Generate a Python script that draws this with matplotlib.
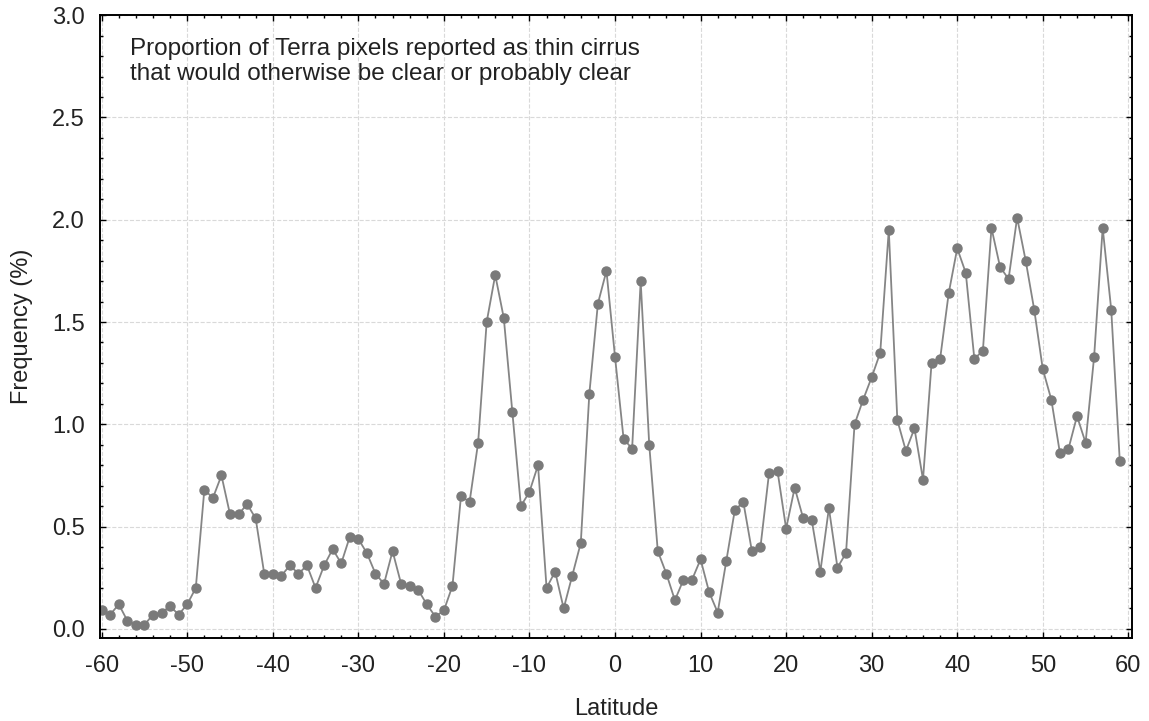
import matplotlib
matplotlib.use("Agg")
import matplotlib.pyplot as plt
from matplotlib.ticker import MultipleLocator

plt.rcParams['font.family'] = ['Liberation Sans', 'DejaVu Sans']

# latitud (grados) y frecuencia (%)
latitud = list(range(-60, 60))
frecuencia = [
    0.09, 0.07, 0.12, 0.04, 0.02, 0.02, 0.07, 0.08, 0.11, 0.07,
    0.12, 0.20, 0.68, 0.64, 0.75, 0.56, 0.56, 0.61, 0.54, 0.27,
    0.27, 0.26, 0.31, 0.27, 0.31, 0.20, 0.31, 0.39, 0.32, 0.45,
    0.44, 0.37, 0.27, 0.22, 0.38, 0.22, 0.21, 0.19, 0.12, 0.06,
    0.09, 0.21, 0.65, 0.62, 0.91, 1.50, 1.73, 1.52, 1.06, 0.60,
    0.67, 0.80, 0.20, 0.28, 0.10, 0.26, 0.42, 1.15, 1.59, 1.75,
    1.33, 0.93, 0.88, 1.70, 0.90, 0.38, 0.27, 0.14, 0.24, 0.24,
    0.34, 0.18, 0.08, 0.33, 0.58, 0.62, 0.38, 0.40, 0.76, 0.77,
    0.49, 0.69, 0.54, 0.53, 0.28, 0.59, 0.30, 0.37, 1.00, 1.12,
    1.23, 1.35, 1.95, 1.02, 0.87, 0.98, 0.73, 1.30, 1.32, 1.64,
    1.86, 1.74, 1.32, 1.36, 1.96, 1.77, 1.71, 2.01, 1.80, 1.56,
    1.27, 1.12, 0.86, 0.88, 1.04, 0.91, 1.33, 1.96, 1.56, 0.82,
]
xticks = list(range(-60, 61, 10))
yticks = [0.0, 0.5, 1.0, 1.5, 2.0, 2.5, 3.0]

fig = plt.figure(figsize=(11.49, 7.21), dpi=100)
ax = fig.add_axes([0.087, 0.115, 0.898, 0.864])

ax.plot(latitud, frecuencia, color='#858585', lw=1.3, marker='o',
        markersize=6.5, markerfacecolor='#7a7a7a', markeredgecolor='#7a7a7a')

ax.set_xlim(-60.2, 60.4)
ax.set_ylim(-0.045, 3.0)
ax.set_xticks(xticks)
ax.set_yticks(yticks)
ax.set_xticklabels([str(t) for t in xticks])
ax.set_yticklabels(['%.1f' % t for t in yticks])
ax.xaxis.set_minor_locator(MultipleLocator(2))
ax.yaxis.set_minor_locator(MultipleLocator(0.1))
ax.tick_params(which='both', direction='in', top=True, right=True, labelsize=17,
               labelcolor='#222222')
ax.tick_params(which='major', length=4, width=1)
ax.tick_params(which='minor', length=2.5, width=1)
ax.tick_params(axis='x', pad=12)
ax.tick_params(axis='y', pad=11)

ax.grid(True, which='major', color='#d9d9d9', linestyle='--', linewidth=0.8)
for s in ax.spines.values():
    s.set_linewidth(1.4)

ax.set_xlabel('Latitude', fontsize=17, color='#222222')
ax.set_ylabel('Frequency (%)', fontsize=17, color='#222222')
ax.xaxis.set_label_coords(0.5, -0.096)
ax.yaxis.set_label_coords(-0.065, 0.5)

ax.text(0.029, 0.963, 'Proportion of Terra pixels reported as thin cirrus\n'
        'that would otherwise be clear or probably clear', color='#222222',
        transform=ax.transAxes, fontsize=17.5, va='top', ha='left', linespacing=1.15)

fig.savefig('out.png', dpi=100)
